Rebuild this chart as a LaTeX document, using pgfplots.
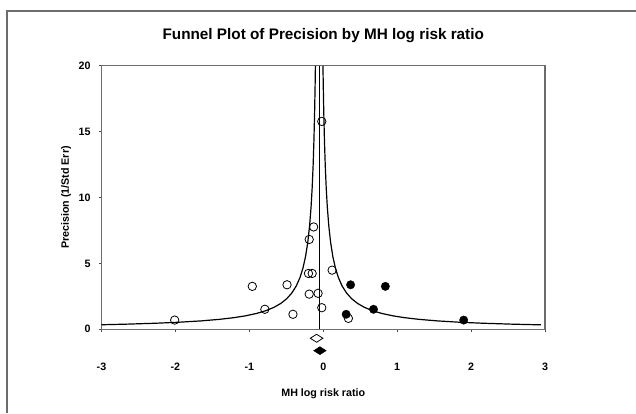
\documentclass[border=0pt]{standalone}
\usepackage{fontspec}
\setmainfont{Liberation Sans}
\usepackage{pgfplots}
\pgfplotsset{compat=1.18}
\begin{document}
\begin{tikzpicture}[x=1pt,y=1pt]
\path[use as bounding box] (0,0) rectangle (636,-413);
% outer frame (only left and top edges are in view)
\draw[gray!85!black, line width=1.2pt] (7,-413) -- (7,-11) -- (636,-11);
\begin{axis}[
  at={(101.5pt,-329.3pt)}, anchor=south west,
  scale only axis, width=443.5pt, height=263.5pt,
  xmin=-3, xmax=3, ymin=0, ymax=20,
  xtick={-3,-2,-1,0,1,2,3}, xticklabels={-3,-2,-1,0,1,2,3},
  ytick={0,5,10,15,20}, yticklabels={0,5,10,15,20},
  tick pos=left, tick align=outside, major tick length=3pt,
  tick style={gray!60!black, line width=0.8pt},
  axis line style={gray!85!black, line width=1.1pt},
  ticklabel style={font=\fontsize{10.7}{12}\selectfont\bfseries},
  xticklabel style={anchor=base, inner sep=0pt, text height=7pt, text depth=0pt,
                    yshift=-37.8pt},
  yticklabel style={anchor=east, inner sep=0pt, xshift=-7.7pt},
  title={Funnel Plot of Precision by MH log risk ratio},
  title style={font=\fontsize{15.3}{17}\selectfont\bfseries,
               at={(axis description cs:0.5,1.092)}, anchor=center},
  xlabel={MH log risk ratio},
  xlabel style={font=\fontsize{10.7}{12}\selectfont\bfseries,
                at={(axis description cs:0.5,-0.2456)}, anchor=center},
  ylabel={Precision (1/Std Err)},
  ylabel style={font=\fontsize{10.7}{12}\selectfont\bfseries,
                at={(axis description cs:-0.080,0.5)}, anchor=center},
  clip=false,
]
% funnel limits
\addplot[black, line width=1.2pt] coordinates {
  (-3.000,0.346) (-2.655,0.392) (-2.255,0.464) (-1.955,0.537) (-1.655,0.638)
  (-1.405,0.756) (-1.205,0.887) (-1.055,1.020) (-0.905,1.200) (-0.775,1.417)
  (-0.665,1.672) (-0.575,1.962) (-0.495,2.318) (-0.425,2.757) (-0.365,3.290)
  (-0.315,3.923) (-0.275,4.636) (-0.240,5.514) (-0.210,6.581) (-0.185,7.846)
  (-0.165,9.273) (-0.150,10.737) (-0.137,12.439) (-0.126,14.366)
  (-0.117,16.452) (-0.110,18.545) (-0.106,20.0)
};
\addplot[black, line width=1.2pt] coordinates {
  (-0.004,20.0) (0.000,18.545) (0.007,16.452) (0.016,14.366) (0.027,12.439)
  (0.040,10.737) (0.055,9.273) (0.075,7.846) (0.100,6.581) (0.130,5.514)
  (0.165,4.636) (0.205,3.923) (0.255,3.290) (0.315,2.757) (0.385,2.318)
  (0.465,1.962) (0.555,1.672) (0.665,1.417) (0.795,1.200) (0.945,1.020)
  (1.095,0.887) (1.295,0.756) (1.545,0.638) (1.845,0.537) (2.145,0.464)
  (2.545,0.392) (2.890,0.346) (2.945,0.340)
};
% combined effect line
\addplot[black, line width=0.8pt] coordinates {(-0.055,0) (-0.055,20)};
% observed studies
\addplot[only marks, mark=o, mark size=4.2pt, mark options={black, line width=0.8pt}]
  coordinates {
  (-0.02,15.78) (-0.13,7.77) (-0.19,6.82) (-0.20,4.24) (-0.15,4.24)
  (0.12,4.49) (-0.96,3.26) (-0.49,3.38) (-0.19,2.67) (-0.07,2.73)
  (-0.79,1.52) (-0.41,1.14) (-0.02,1.64) (0.34,0.83) (-2.01,0.70)
};
% imputed studies
\addplot[only marks, mark=*, mark size=4.2pt, mark options={black}]
  coordinates {(0.37,3.38) (0.84,3.26) (0.68,1.52) (0.31,1.14) (1.90,0.70)};
% observed and adjusted combined effects
\addplot[only marks, mark=diamond, mark size=4pt,
         mark options={black, fill=white, line width=0.8pt, xscale=2.1}]
  coordinates {(-0.09,-0.68)};
\addplot[only marks, mark=diamond*, mark size=4pt,
         mark options={black, xscale=2.1}]
  coordinates {(-0.045,-1.62)};
\end{axis}
\end{tikzpicture}
\end{document}
